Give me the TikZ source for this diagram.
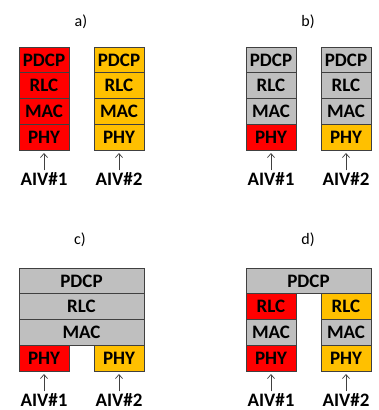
\documentclass[tikz,border=0pt]{standalone}
\usepackage{fontspec}
\setmainfont{Carlito}
\usepackage{tikz}
\usetikzlibrary{arrows.meta,positioning}
\definecolor{RedLayer}{RGB}{255,0,0}
\definecolor{YellowLayer}{RGB}{255,192,0}
\definecolor{GrayLayer}{RGB}{191,191,191}
\definecolor{EdgeGray}{RGB}{64,64,64}
\tikzset{
  layer/.style={draw=EdgeGray, line width=0.8pt, minimum width=50pt, minimum height=25.75pt,
    inner sep=0pt, outer sep=0pt, font=\fontsize{19}{19}\selectfont\bfseries},
  widelayer/.style={layer, minimum width=125pt},
  aiv/.style={inner sep=1pt, font=\fontsize{19}{19}\selectfont\bfseries},
  panel/.style={font=\fontsize{16}{16}\selectfont},
  up/.style={-{Straight Barb[length=4pt,width=7pt]}, EdgeGray, line width=0.7pt, shorten >=3pt, shorten <=1pt}
}

\begin{document}
\begin{tikzpicture}[x=1pt, y=-1pt]
    \useasboundingbox (0,0) rectangle (379,410);
    %%Panel labels
    \node[panel] (la) at (81,22) {a)};
    \node[panel] (lb) at (308,22) {b)};
    \node[panel] (lc) at (80,240) {c)};
    \node[panel] (ld) at (308,240) {d)};
    %%Separate stacks
    \foreach \s/\n/\x/\cp/\cr/\cm/\ch in {a1/1/44/RedLayer/RedLayer/RedLayer/RedLayer,
        a2/2/119/YellowLayer/YellowLayer/YellowLayer/YellowLayer,
        b1/1/271/GrayLayer/GrayLayer/GrayLayer/RedLayer,
        b2/2/346/GrayLayer/GrayLayer/GrayLayer/YellowLayer}
    {
    \node[layer, fill=\cp] (\s pdcp) at (\x,59.9) {PDCP};
    \node[layer, fill=\cr, below=0pt of \s pdcp] (\s rlc) {RLC};
    \node[layer, fill=\cm, below=0pt of \s rlc] (\s mac) {MAC};
    \node[layer, fill=\ch, below=0pt of \s mac] (\s phy) {PHY};
    \node[aiv] (\s aiv) at (\x,179) {AIV\#\n};
    \draw[up] (\s aiv) -- (\s phy);
    }
    %%Shared PDCP, RLC, MAC
    \node[widelayer, fill=GrayLayer] (cpdcp) at (81.5,280.9) {PDCP};
    \node[widelayer, fill=GrayLayer, below=0pt of cpdcp] (crlc) {RLC};
    \node[widelayer, fill=GrayLayer, below=0pt of crlc] (cmac) {MAC};
    \node[layer, fill=RedLayer, anchor=north west] (c1phy) at (cmac.south west) {PHY};
    \node[layer, fill=YellowLayer, anchor=north east] (c2phy) at (cmac.south east) {PHY};
    \node[aiv] (c1aiv) at (44,400) {AIV\#1};
    \node[aiv] (c2aiv) at (119,400) {AIV\#2};
    \draw[up] (c1aiv) -- (c1phy);
    \draw[up] (c2aiv) -- (c2phy);
    %%Shared PDCP only
    \node[widelayer, fill=GrayLayer] (dpdcp) at (308.5,280.9) {PDCP};
    \node[layer, fill=RedLayer, anchor=north west] (d1rlc) at (dpdcp.south west) {RLC};
    \node[layer, fill=GrayLayer, below=0pt of d1rlc] (d1mac) {MAC};
    \node[layer, fill=RedLayer, below=0pt of d1mac] (d1phy) {PHY};
    \node[layer, fill=YellowLayer, anchor=north east] (d2rlc) at (dpdcp.south east) {RLC};
    \node[layer, fill=GrayLayer, below=0pt of d2rlc] (d2mac) {MAC};
    \node[layer, fill=YellowLayer, below=0pt of d2mac] (d2phy) {PHY};
    \node[aiv] (d1aiv) at (271,400) {AIV\#1};
    \node[aiv] (d2aiv) at (346,400) {AIV\#2};
    \draw[up] (d1aiv) -- (d1phy);
    \draw[up] (d2aiv) -- (d2phy);
\end{tikzpicture}
\end{document}
